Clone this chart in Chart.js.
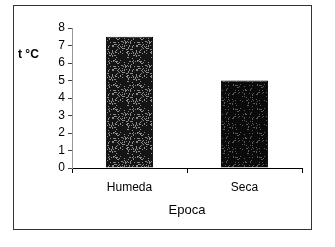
<!DOCTYPE html>
<html lang="es">
<head>
<meta charset="UTF-8">
<title>Epoca</title>
<script src="https://cdn.jsdelivr.net/npm/chart.js@4"></script>
<style>
  html, body { margin: 0; padding: 0; background: #fff; }
  #wrap { width: 335px; height: 247px; }
</style>
</head>
<body>
<div id="wrap"><canvas id="chart" width="335" height="247"></canvas></div>
<script>
const categories = ['Humeda', 'Seca'];
const temps = [7.5, 5];
const yTicks = [0, 1, 2, 3, 4, 5, 6, 7, 8];

// speckled dark fill, like the scanned original
function speckle(base, dots, density) {
  const c = document.createElement('canvas');
  c.width = c.height = 24;
  const g = c.getContext('2d');
  g.fillStyle = base;
  g.fillRect(0, 0, 24, 24);
  g.fillStyle = dots;
  let s = 7;
  for (let i = 0; i < 24 * 24; i++) {
    s = (s * 1103515245 + 12345) & 0x7fffffff;
    if ((s % 100) < density) g.fillRect(i % 24, Math.floor(i / 24), 1, 1);
  }
  return g.createPattern(c, 'repeat');
}

const font = '"Liberation Sans", Arial, sans-serif';
const ctx = document.getElementById('chart').getContext('2d');

const frame = {
  id: 'frame',
  beforeDraw(chart) {
    const g = chart.ctx;
    g.save();
    g.strokeStyle = '#333';
    g.lineWidth = 1;
    g.strokeRect(13.5, 5.5, 298, 224);
    g.restore();
  },
  afterDraw(chart) {
    const g = chart.ctx;
    g.save();
    g.fillStyle = '#000';
    g.font = 'bold 12px ' + font;
    g.textBaseline = 'middle';
    g.fillText('t °C', 18, 55);
    g.restore();
  }
};

new Chart(ctx, {
  type: 'bar',
  data: {
    labels: categories,
    datasets: [{
      data: temps,
      backgroundColor: [speckle('#141414', '#8a8a8a', 16), speckle('#0a0a0a', '#5a5a5a', 7)],
      borderColor: '#000',
      borderWidth: 1,
      barPercentage: 0.41,
      categoryPercentage: 1
    }]
  },
  options: {
    responsive: false,
    animation: false,
    layout: { padding: { left: 0, top: 28, right: 33, bottom: 0 } },
    plugins: { legend: { display: false }, tooltip: { enabled: false } },
    scales: {
      x: {
        afterFit(s) { s.height = 79; },
        border: { color: '#000', width: 1 },
        grid: { offset: true, drawOnChartArea: false, tickLength: 5, color: '#000' },
        ticks: { color: '#000', padding: 7, font: { family: font, size: 12 } },
        title: {
          display: true, text: 'Epoca', color: '#000',
          font: { family: font, size: 13 },
          padding: { top: 0, bottom: 29 }
        }
      },
      y: {
        min: 0, max: 8,
        afterFit(s) { s.width = 72; },
        afterBuildTicks(s) { s.ticks = yTicks.map(v => ({ value: v })); },
        border: { color: '#999', dash: [2, 2], width: 1 },
        grid: { drawOnChartArea: false, tickLength: 4, color: '#444' },
        ticks: { color: '#000', padding: 3, font: { family: font, size: 12 } }
      }
    }
  },
  plugins: [frame]
});
</script>
</body>
</html>
